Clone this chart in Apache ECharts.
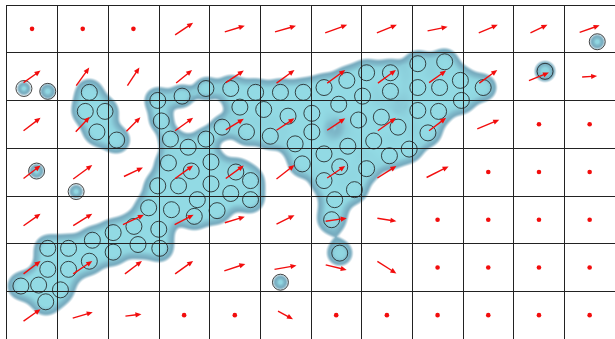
<!DOCTYPE html>
<html>
<head>
<meta charset="utf-8">
<script src="https://cdn.jsdelivr.net/npm/echarts@6/dist/echarts.min.js"></script>
<style>
  html, body { margin: 0; padding: 0; background: #fff; }
  #chart { width: 615px; height: 339px; }
</style>
</head>
<body>
<div id="chart"></div>
<script>
// Grid size in cells
const COLS = 12;
const ROWS = 7;

// Vector field, one entry per cell, row by row from the top (u: rightward, v: upward)
const vectorU = [
  [ 0,  0,  0, 18, 20, 21, 22, 20, 20, 19, 17, 20],
  [17, 13, 12, 16, 18, 18, 18, 18, 17, 18, 20, 15],
  [17, 14, 14, 18, 18, 18, 18, 18, 17, 22,  0,  0],
  [17, 19, 19, 18, 18, 18, 18, 19, 22,  0,  0,  0],
  [17, 19, 21, 19, 20, 18, 21, 19,  0,  0,  0,  0],
  [17, 19, 17, 18, 21, 22, 21, 19,  0,  0,  0,  0],
  [17, 20, 16,  0,  0, 15,  0,  0,  0,  0,  0,  0]
];
const vectorV = [
  [ 0,  0,  0, 12,  6,  6,  8,  8,  4,  8,  8,  7],
  [12, 18, 18, 13, 12, 13, 13, 13, 12, 13,  8,  1],
  [13, 15, 14, 13, 11, 12, 12, 13, 13,  9,  0,  0],
  [13, 14,  9, 13, 13, 14, 12, 12, 11,  0,  0,  0],
  [12, 12, 10, 10,  6,  9,  3, -3,  0,  0,  0,  0],
  [13, 13, 13, 13,  7,  4, -5, -12, 0,  0,  0,  0],
  [12,  6,  2,  0,  0, -8,  0,  0,  0,  0,  0,  0]
];

// Sample points: [x, y, blob spread] in cell units (y counted from the top)
const samplePoints = [
  // isolated points
  [0.34, 1.75, 0.092], [0.81, 1.81, 0.105], [0.59, 3.48, 0.1], [1.37, 3.91, 0.095],
  [5.40, 5.81, 0.1], [6.57, 5.20, 0.185], [10.62, 1.39, 0.148], [11.65, 0.77, 0.1],
  // upper-left arm
  [1.63, 1.83, 0.195], [1.55, 2.23, 0.195], [1.94, 2.23, 0.195], [1.78, 2.66, 0.195], [2.17, 2.83, 0.195],
  // upper band
  [2.98, 2.00, 0.195], [3.46, 1.91, 0.165], [3.93, 1.75, 0.165], [4.42, 1.75, 0.195], [4.91, 1.83, 0.195],
  [5.40, 1.83, 0.195], [5.85, 1.83, 0.195], [6.26, 1.73, 0.195], [6.71, 1.58, 0.195], [7.10, 1.42, 0.195],
  [7.57, 1.42, 0.195], [7.57, 1.81, 0.195], [7.02, 1.91, 0.195], [6.55, 2.08, 0.22], [6.02, 2.27, 0.22],
  [5.55, 2.33, 0.195], [5.07, 2.19, 0.195], [4.60, 2.14, 0.195],
  // upper-right lobe
  [8.11, 1.23, 0.195], [8.64, 1.19, 0.195], [8.11, 1.73, 0.195], [8.54, 1.73, 0.195], [8.95, 1.58, 0.195],
  [9.40, 1.73, 0.195], [8.97, 2.00, 0.195], [8.52, 2.23, 0.195], [8.11, 2.21, 0.195],
  // central body
  [3.05, 2.43, 0.165], [3.23, 2.81, 0.165], [3.58, 2.98, 0.165], [3.93, 2.81, 0.165], [4.25, 2.56, 0.165],
  [4.73, 2.66, 0.195], [5.20, 2.75, 0.195], [5.69, 2.91, 0.195], [3.19, 3.31, 0.195], [3.64, 3.48, 0.195],
  [4.03, 3.29, 0.195], [4.52, 3.50, 0.195], [4.81, 3.68, 0.195], [4.03, 3.75, 0.195], [4.42, 3.95, 0.195],
  [4.81, 4.08, 0.195], [4.15, 4.31, 0.195], [3.70, 4.43, 0.195], [3.76, 4.08, 0.195], [3.39, 3.79, 0.195],
  [2.98, 3.79, 0.195], [2.80, 4.25, 0.195], [3.25, 4.29, 0.195],
  // lower-left tail
  [2.51, 4.64, 0.195], [3.00, 4.70, 0.195], [2.10, 4.77, 0.195], [1.69, 4.93, 0.195], [2.59, 5.02, 0.195],
  [3.02, 5.10, 0.195], [2.10, 5.18, 0.195], [1.63, 5.37, 0.195], [0.81, 5.10, 0.195], [1.22, 5.10, 0.195],
  [0.81, 5.54, 0.195], [1.22, 5.54, 0.195], [0.28, 5.89, 0.195], [0.63, 5.87, 0.195], [1.06, 5.97, 0.195],
  [0.77, 6.22, 0.195],
  // right body
  [5.83, 3.33, 0.195], [6.26, 3.12, 0.195], [6.73, 2.96, 0.22], [7.24, 2.85, 0.195], [7.72, 2.56, 0.195],
  [8.31, 2.68, 0.195], [7.94, 3.02, 0.195], [7.55, 3.16, 0.195], [7.10, 3.43, 0.195], [6.57, 3.39, 0.195],
  [6.26, 3.68, 0.195], [6.86, 3.87, 0.195], [6.47, 4.08, 0.195], [6.41, 4.50, 0.21], [6.94, 2.41, 0.22],
  [7.39, 2.35, 0.195], [6.02, 2.66, 0.22]
];

// Blob look
const BLOB_WEIGHT = 2.2;
const BLOB_THRESHOLD = 1;
const BLOB_EDGE = [118, 170, 190];
const BLOB_CORE = [146, 218, 228];
const ARROW_COLOR = '#f20d0d';

function smoothstep(a, b, x) {
  const t = Math.min(1, Math.max(0, (x - a) / (b - a)));
  return t * t * (3 - 2 * t);
}

// Density blob rendered as a bitmap from the sample points
function renderBlob(params, api) {
  const W = Math.ceil(api.getWidth());
  const H = Math.ceil(api.getHeight());
  const canvas = document.createElement('canvas');
  canvas.width = W;
  canvas.height = H;
  const ctx = canvas.getContext('2d');
  const img = ctx.createImageData(W, H);
  const field = new Float32Array(W * H);
  const cellW = api.size([1, 1])[0];
  samplePoints.forEach(function (p) {
    const c = api.coord([p[0], p[1]]);
    const sigma = p[2] * cellW;
    const inv = 1 / (2 * sigma * sigma);
    const reach = Math.ceil(sigma * 4.5);
    const x0 = Math.max(0, Math.floor(c[0] - reach)), x1 = Math.min(W - 1, Math.ceil(c[0] + reach));
    const y0 = Math.max(0, Math.floor(c[1] - reach)), y1 = Math.min(H - 1, Math.ceil(c[1] + reach));
    for (let y = y0; y <= y1; y++) {
      const dy = y + 0.5 - c[1];
      for (let x = x0; x <= x1; x++) {
        const dx = x + 0.5 - c[0];
        field[y * W + x] += BLOB_WEIGHT * Math.exp(-(dx * dx + dy * dy) * inv);
      }
    }
  });
  const T = BLOB_THRESHOLD;
  for (let y = 1; y < H - 1; y++) {
    for (let x = 1; x < W - 1; x++) {
      const i = y * W + x;
      const f = field[i];
      if (f < 0.15) continue;
      const gx = (field[i + 1] - field[i - 1]) / 2;
      const gy = (field[i + W] - field[i - W]) / 2;
      const g = Math.sqrt(gx * gx + gy * gy) + 1e-6;
      // signed distance to the threshold contour, in pixels
      const d = Math.max(-20, Math.min(60, (f - T) / g));
      if (d < -3.2) continue;
      const a = smoothstep(-3, 1.6, d);
      const t = 0.6 * smoothstep(0, 9, d) + 0.4 * smoothstep(T, 2.6 * T, f);
      const j = i * 4;
      img.data[j] = BLOB_EDGE[0] + (BLOB_CORE[0] - BLOB_EDGE[0]) * t;
      img.data[j + 1] = BLOB_EDGE[1] + (BLOB_CORE[1] - BLOB_EDGE[1]) * t;
      img.data[j + 2] = BLOB_EDGE[2] + (BLOB_CORE[2] - BLOB_EDGE[2]) * t;
      img.data[j + 3] = Math.round(a * 255);
    }
  }
  ctx.putImageData(img, 0, 0);
  return {
    type: 'image',
    silent: true,
    style: { image: canvas, x: 0, y: 0, width: W, height: H }
  };
}

// Arrow centred on its cell, or a dot where the vector is zero
function renderArrow(params, api) {
  const c = api.coord([api.value(0), api.value(1)]);
  const u = api.value(2);
  const v = -api.value(3);
  const len = Math.sqrt(u * u + v * v);
  if (len < 0.5) {
    return { type: 'circle', shape: { cx: c[0], cy: c[1], r: 2.3 }, style: { fill: ARROW_COLOR } };
  }
  const ux = u / len, uy = v / len;
  const xs = c[0] - u / 2, ys = c[1] - v / 2;
  const xe = c[0] + u / 2, ye = c[1] + v / 2;
  const hl = 6, hw = 2.6;
  const bx = xe - ux * hl, by = ye - uy * hl;
  return {
    type: 'group',
    children: [
      { type: 'line', shape: { x1: xs, y1: ys, x2: bx + ux, y2: by + uy }, style: { stroke: ARROW_COLOR, lineWidth: 1.4 } },
      { type: 'polygon', shape: { points: [[xe, ye], [bx - uy * hw, by + ux * hw], [bx + uy * hw, by - ux * hw]] }, style: { fill: ARROW_COLOR } }
    ]
  };
}

const arrowData = [];
for (let r = 0; r < ROWS; r++) {
  for (let c = 0; c < COLS; c++) {
    arrowData.push([c + 0.5, r + 0.5, vectorU[r][c], vectorV[r][c]]);
  }
}

const gridAxis = {
  type: 'value',
  min: 0,
  interval: 1,
  axisLabel: { show: false },
  axisTick: { show: false },
  axisLine: { show: false },
  splitLine: { show: true, lineStyle: { color: '#222', width: 1 } }
};

const chart = echarts.init(document.getElementById('chart'));
chart.setOption({
  animation: false,
  grid: { left: 6.7, top: 5, width: 614.2, height: 336.3, containLabel: false },
  xAxis: Object.assign({}, gridAxis, { max: COLS }),
  yAxis: Object.assign({}, gridAxis, { max: ROWS, inverse: true }),
  series: [
    {
      type: 'custom',
      z: -1,
      silent: true,
      data: [[0, 0]],
      renderItem: renderBlob
    },
    {
      type: 'scatter',
      z: 3,
      silent: true,
      symbol: 'circle',
      symbolSize: 16,
      data: samplePoints.map(function (p) { return [p[0], p[1]]; }),
      itemStyle: { color: 'rgba(0,0,0,0)', borderColor: '#1c1c1c', borderWidth: 1 }
    },
    {
      type: 'custom',
      z: 4,
      silent: true,
      data: arrowData,
      renderItem: renderArrow
    }
  ]
});
</script>
</body>
</html>
